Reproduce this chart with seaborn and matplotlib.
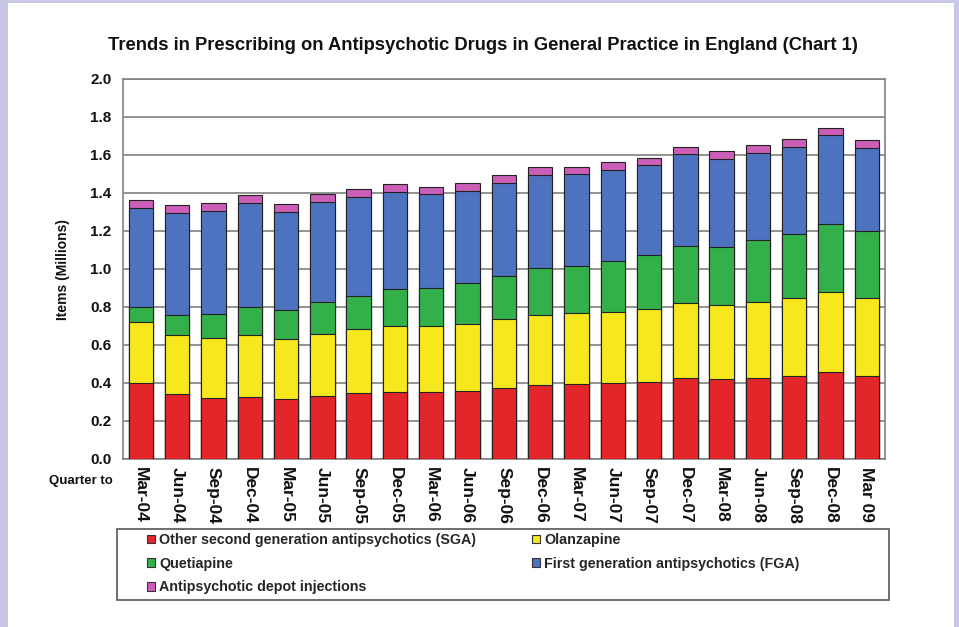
import numpy as np
import pandas as pd
import matplotlib
matplotlib.use("Agg")
import matplotlib.pyplot as plt
import seaborn as sns
from matplotlib.patches import Rectangle, Patch

quarters = ["Mar-04", "Jun-04", "Sep-04", "Dec-04", "Mar-05", "Jun-05", "Sep-05",
            "Dec-05", "Mar-06", "Jun-06", "Sep-06", "Dec-06", "Mar-07", "Jun-07",
            "Sep-07", "Dec-07", "Mar-08", "Jun-08", "Sep-08", "Dec-08", "Mar 09"]
sga = [0.398, 0.340, 0.319, 0.328, 0.316, 0.332, 0.346, 0.354, 0.351, 0.358, 0.375,
       0.389, 0.393, 0.402, 0.407, 0.425, 0.419, 0.428, 0.439, 0.456, 0.439]
olanzapine = [0.321, 0.313, 0.316, 0.325, 0.316, 0.326, 0.336, 0.346, 0.349, 0.353, 0.364,
              0.367, 0.374, 0.373, 0.384, 0.394, 0.392, 0.400, 0.407, 0.421, 0.407]
quetiapine = [0.083, 0.103, 0.126, 0.145, 0.152, 0.168, 0.178, 0.193, 0.198, 0.214, 0.226,
              0.247, 0.251, 0.269, 0.283, 0.304, 0.307, 0.325, 0.338, 0.360, 0.354]
fga = [0.517, 0.537, 0.544, 0.551, 0.514, 0.525, 0.521, 0.512, 0.495, 0.486, 0.489,
       0.492, 0.482, 0.477, 0.473, 0.481, 0.461, 0.456, 0.456, 0.467, 0.439]
depot = [0.044, 0.044, 0.041, 0.040, 0.042, 0.044, 0.042, 0.042, 0.040, 0.040, 0.041,
         0.040, 0.039, 0.040, 0.039, 0.038, 0.042, 0.042, 0.042, 0.040, 0.040]

series_names = ["Other second generation antipsychotics (SGA)", "Olanzapine", "Quetiapine",
                "First generation antipsychotics (FGA)", "Antipsychotic depot injections"]
series_values = [sga, olanzapine, quetiapine, fga, depot]
colors = ["#e2262a", "#f7e81e", "#33b04a", "#4d72bf", "#cc5eb8"]
y_ticks = [0.0, 0.2, 0.4, 0.6, 0.8, 1.0, 1.2, 1.4, 1.6, 1.8, 2.0]

sns.set_theme(style="white")
plt.rcParams["font.family"] = ["Liberation Sans", "DejaVu Sans"]

W, H = 959, 627
fig = plt.figure(figsize=(W / 100, H / 100), dpi=100, facecolor="#c8c7e6")
fig.add_artist(Rectangle((8 / W, 0), (954 - 8) / W, (H - 3) / H, transform=fig.transFigure,
                         facecolor="white", edgecolor="none", zorder=-5))

ax = fig.add_axes([122.7 / W, 1 - 459 / H, (885 - 122.7) / W, (459 - 79) / H])
ax.set_facecolor("white")

df = pd.DataFrame({"quarter": quarters})
cum = np.cumsum(np.array(series_values), axis=0)
for i in reversed(range(len(series_names))):
    df["cum"] = cum[i]
    sns.barplot(data=df, x="quarter", y="cum", color=colors[i], saturation=1, width=0.67,
                edgecolor="#222222", linewidth=0.8, ax=ax, zorder=3)

grid_c = "#808080"
ax.set_ylim(0, 2.0)
ax.set_xlim(-0.5, len(quarters) - 0.5)
ax.set_yticks(y_ticks)
ax.set_yticklabels([f"{v:.1f}" for v in y_ticks], fontsize=11, fontweight="bold")
ax.yaxis.grid(True, color=grid_c, lw=1.2, zorder=0)
ax.xaxis.grid(False)
ax.set_axisbelow(True)
for sp in ax.spines.values():
    sp.set_color(grid_c)
    sp.set_linewidth(1.2)

ax.set_xticks(range(len(quarters)))
ax.set_xticklabels(quarters, fontsize=12.5, fontweight="bold", rotation=270, ha="center", va="top")
ax.set_xticks(np.arange(0.5, len(quarters) - 0.5, 1), minor=True)
ax.tick_params(axis="x", which="major", length=0, pad=6, colors="#111111")
ax.tick_params(axis="x", which="minor", length=8, width=1.2, direction="inout", color=grid_c)
ax.tick_params(axis="y", length=5, width=1.2, color=grid_c, labelcolor="#111111", pad=3)

ax.set_xlabel("")
ax.set_ylabel("Items (Millions)", fontsize=10, fontweight="bold", color="#111111")
ax.yaxis.set_label_coords((70 - 122.7) / (885 - 122.7), 0.5)

fig.text(482.5 / W, 1 - 45 / H,
         "Trends in Prescribing on Antipsychotic Drugs in General Practice in England (Chart 1)",
         ha="center", va="center", fontsize=13.2, fontweight="bold", color="#111111")
fig.text(113 / W, 1 - 481 / H, "Quarter to", ha="right", va="center", fontsize=9.5,
         fontweight="bold", color="#111111")

fig.add_artist(Rectangle((117 / W, 1 - 600 / H), 772 / W, 71 / H, transform=fig.transFigure,
                         facecolor="none", edgecolor="#555555", lw=1.2))
order = [0, 2, 4, 1, 3]
handles = [Patch(facecolor=colors[i], edgecolor="#333333", lw=0.8) for i in order]
labels = [series_names[i] for i in order]
fig.legend(handles, labels, ncol=2, loc="upper left", bbox_to_anchor=(147 / W, 1 - 533 / H),
           frameon=False, prop={"size": 10.3, "weight": "bold"}, handlelength=0.55,
           handleheight=0.55, handletextpad=0.3, columnspacing=3.9, labelspacing=0.68,
           borderpad=0, borderaxespad=0)

fig.savefig("out.png", dpi=100, facecolor=fig.get_facecolor())
